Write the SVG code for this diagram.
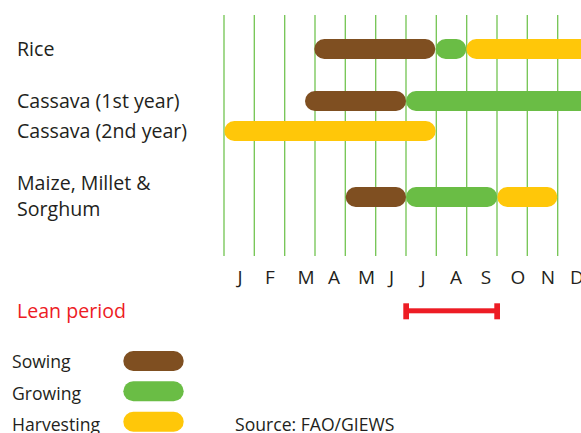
<svg xmlns="http://www.w3.org/2000/svg" width="581" height="433" viewBox="0 0 581 433">
<style>
text{font-family:"Open Sans","Noto Sans",sans-serif;fill:#231f20}
.lbl{font-size:19.6px}
.mon{font-size:19px;text-anchor:middle}
.leg{font-size:17.6px}
.grid line{stroke:#72c451;stroke-width:1.3}
.sow{fill:#7f4f21}
.grow{fill:#6abd45}
.harv{fill:#ffc709}
</style>
<rect width="581" height="433" fill="#fff"/>
<g id="grid" class="grid">
<line x1="224" y1="15" x2="224" y2="256"/>
<line x1="254.3" y1="15" x2="254.3" y2="256"/>
<line x1="284.7" y1="15" x2="284.7" y2="256"/>
<line x1="315" y1="15" x2="315" y2="256"/>
<line x1="345.3" y1="15" x2="345.3" y2="256"/>
<line x1="375.7" y1="15" x2="375.7" y2="256"/>
<line x1="406" y1="15" x2="406" y2="256"/>
<line x1="436.3" y1="15" x2="436.3" y2="256"/>
<line x1="466.7" y1="15" x2="466.7" y2="256"/>
<line x1="497" y1="15" x2="497" y2="256"/>
<line x1="527.3" y1="15" x2="527.3" y2="256"/>
<line x1="557.7" y1="15" x2="557.7" y2="256"/>
</g>
<g id="rice">
<text class="lbl" x="17" y="56">Rice</text>
<rect class="sow" x="314.3" y="39" width="121" height="20" rx="10"/>
<rect class="grow" x="435.7" y="39" width="30.6" height="20" rx="10"/>
<rect class="harv" x="466.3" y="39" width="130" height="20" rx="10"/>
</g>
<g id="cassava1">
<text class="lbl" x="17" y="108">Cassava (1st year)</text>
<rect class="sow" x="305" y="91" width="101" height="20" rx="10"/>
<rect class="grow" x="406" y="91" width="190" height="20" rx="10"/>
</g>
<g id="cassava2">
<text class="lbl" x="17" y="138">Cassava (2nd year)</text>
<rect class="harv" x="224.3" y="121" width="211.4" height="20" rx="10"/>
</g>
<g id="maize">
<text class="lbl" x="17" y="190">Maize, Millet &amp;</text>
<text class="lbl" x="17" y="216">Sorghum</text>
<rect class="sow" x="345.7" y="187" width="60.3" height="20" rx="10"/>
<rect class="grow" x="406" y="187" width="91.3" height="20" rx="10"/>
<rect class="harv" x="497.3" y="187" width="60" height="20" rx="10"/>
</g>
<g id="months">
<text class="mon" x="240" y="284">J</text>
<text class="mon" x="270" y="284">F</text>
<text class="mon" x="306" y="284">M</text>
<text class="mon" x="334" y="284">A</text>
<text class="mon" x="366.5" y="284">M</text>
<text class="mon" x="391.5" y="284">J</text>
<text class="mon" x="423" y="284">J</text>
<text class="mon" x="456" y="284">A</text>
<text class="mon" x="486" y="284">S</text>
<text class="mon" x="518" y="284">O</text>
<text class="mon" x="548" y="284">N</text>
<text class="mon" x="577" y="284">D</text>
</g>
<g id="lean">
<text x="17" y="318" style="font-size:19.6px;fill:#ed1c24">Lean period</text>
<rect x="403.3" y="303.3" width="5.7" height="16" fill="#ed1c24"/>
<rect x="494.3" y="303.3" width="5.7" height="16" fill="#ed1c24"/>
<rect x="405" y="308.3" width="92" height="5" fill="#ed1c24"/>
</g>
<g id="legend">
<text class="leg" x="12" y="368">Sowing</text>
<rect class="sow" x="123.3" y="351" width="60.4" height="20" rx="10"/>
<text class="leg" x="12" y="400">Growing</text>
<rect class="grow" x="123.3" y="381.3" width="60.4" height="20" rx="10"/>
<text class="leg" x="12" y="431">Harvesting</text>
<rect class="harv" x="123.3" y="411.7" width="60.4" height="20" rx="10"/>
</g>
<g id="source">
<text class="leg" x="235" y="431">Source: FAO/GIEWS</text>
</g>
</svg>
